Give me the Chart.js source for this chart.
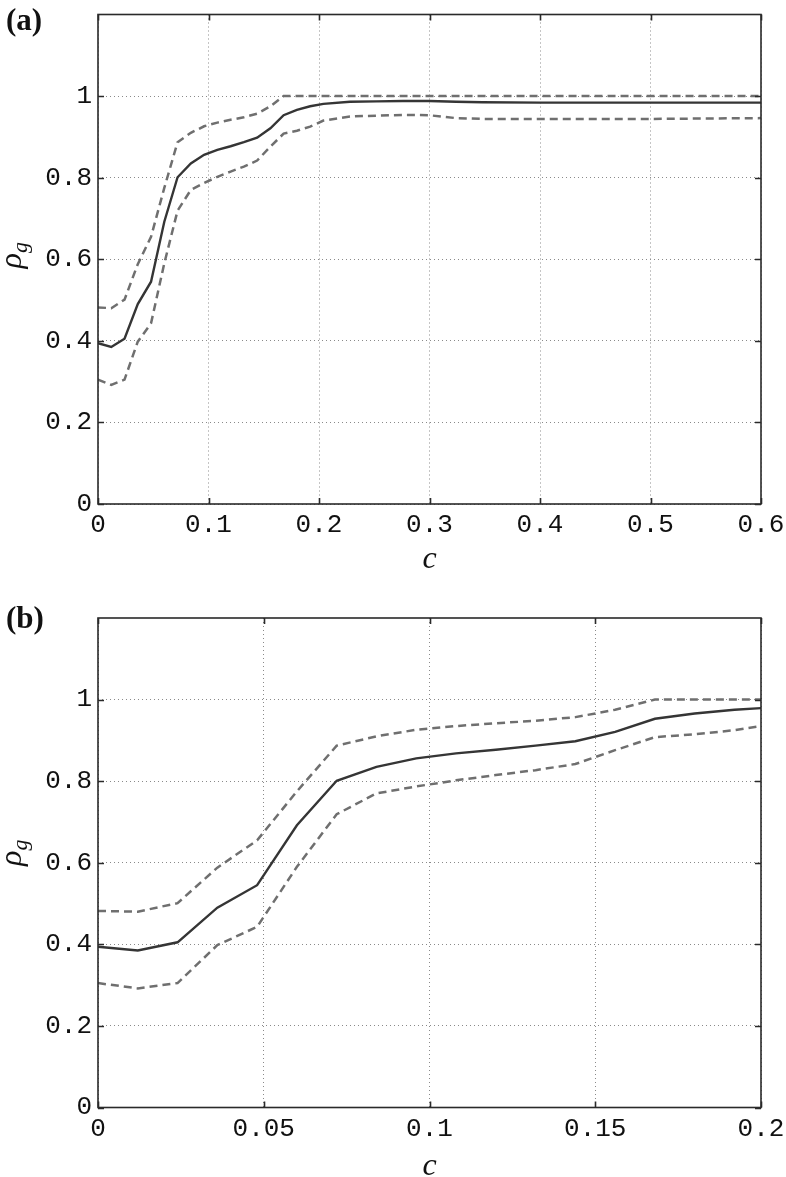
<!DOCTYPE html>
<html>
<head>
<meta charset="utf-8">
<script src="https://cdn.jsdelivr.net/npm/chart.js@4.4.0/dist/chart.umd.min.js"></script>
<style>
  html, body { margin: 0; padding: 0; background: #fff; }
  body { width: 786px; height: 1177px; position: relative; overflow: hidden; }
  .panel { position: absolute; left: 0; width: 786px; }
  #wrapA { top: 0; height: 588px; }
  #wrapB { top: 588px; height: 589px; }
</style>
</head>
<body>
<div class="panel" id="wrapA"><canvas id="chartA" width="786" height="588"></canvas></div>
<div class="panel" id="wrapB"><canvas id="chartB" width="786" height="589"></canvas></div>
<script>
// c values and rho_g readings (mean, upper and lower bound)
const cValues = [0, 0.012, 0.024, 0.036, 0.048, 0.06, 0.072, 0.084, 0.096, 0.108, 0.12, 0.132, 0.144, 0.156, 0.168, 0.18, 0.192, 0.204,
  0.228, 0.252, 0.276, 0.3, 0.324, 0.348, 0.4, 0.5, 0.6];
const rhoMean = [0.394, 0.385, 0.405, 0.490, 0.545, 0.692, 0.801, 0.835, 0.856, 0.868, 0.877, 0.887, 0.898, 0.921, 0.953, 0.966, 0.975, 0.981,
  0.986, 0.987, 0.988, 0.988, 0.986, 0.985, 0.984, 0.984, 0.984];
const rhoUpper = [0.482, 0.480, 0.501, 0.588, 0.655, 0.775, 0.887, 0.910, 0.926, 0.935, 0.942, 0.948, 0.957, 0.975, 1, 1, 1, 1,
  1, 1, 1, 1, 1, 1, 1, 1, 1];
const rhoLower = [0.305, 0.292, 0.305, 0.398, 0.443, 0.590, 0.719, 0.770, 0.787, 0.802, 0.815, 0.827, 0.842, 0.876, 0.908, 0.915, 0.925, 0.940,
  0.950, 0.952, 0.954, 0.953, 0.946, 0.944, 0.944, 0.944, 0.946];

const yTicks = [0, 0.2, 0.4, 0.6, 0.8, 1];
const xTicksA = [0, 0.1, 0.2, 0.3, 0.4, 0.5, 0.6];
const xTicksB = [0, 0.05, 0.1, 0.15, 0.2];

const tickFont = { family: '"Liberation Mono", "DejaVu Sans Mono", monospace', size: 26 };

function toPoints(ys) {
  return cValues.map((c, i) => ({ x: c, y: ys[i] }));
}

// matlab-like frame: box, inward ticks, axis titles, panel letter
const framePlugin = {
  id: 'frame',
  afterDraw(chart, args, opts) {
    const { ctx, chartArea: a } = chart;
    const x = chart.scales.x, y = chart.scales.y;
    ctx.save();
    ctx.strokeStyle = '#2a2a2a';
    ctx.lineWidth = 1.6;
    ctx.beginPath();
    x.ticks.forEach(t => {
      const px = Math.round(x.getPixelForValue(t.value)) + 0.5;
      ctx.moveTo(px, a.bottom); ctx.lineTo(px, a.bottom - 6);
      ctx.moveTo(px, a.top); ctx.lineTo(px, a.top + 6);
    });
    y.ticks.forEach(t => {
      const py = Math.round(y.getPixelForValue(t.value)) + 0.5;
      ctx.moveTo(a.left, py); ctx.lineTo(a.left + 6, py);
      ctx.moveTo(a.right, py); ctx.lineTo(a.right - 6, py);
    });
    ctx.stroke();
    ctx.strokeRect(a.left, a.top, a.right - a.left, a.bottom - a.top);

    ctx.fillStyle = '#111';
    ctx.font = 'bold 31px "Liberation Serif", serif';
    ctx.textAlign = 'left';
    ctx.textBaseline = 'alphabetic';
    ctx.fillText(opts.panel, 6, opts.panelY);

    ctx.font = 'italic 32px "Liberation Serif", serif';
    ctx.textAlign = 'center';
    ctx.fillText('c', (a.left + a.right) / 2, a.bottom + opts.xTitleDy);

    // rho_g, rotated
    const cy = (a.top + a.bottom) / 2 + opts.yTitleDy;
    ctx.translate(21, cy);
    ctx.rotate(-Math.PI / 2);
    ctx.textAlign = 'left';
    ctx.font = 'italic 32px "Liberation Serif", serif';
    const wr = ctx.measureText('ρ').width;
    ctx.font = 'italic 22px "Liberation Serif", serif';
    const wg = ctx.measureText('g').width;
    const x0 = -(wr + wg) / 2;
    ctx.font = 'italic 32px "Liberation Serif", serif';
    ctx.fillText('ρ', x0, 0);
    ctx.font = 'italic 22px "Liberation Serif", serif';
    ctx.fillText('g', x0 + wr, 6);
    ctx.restore();
  }
};

function makeChart(id, xMax, xTicks, padTop, xBoxHeight, frameOpts) {
  const ctx = document.getElementById(id).getContext('2d');
  return new Chart(ctx, {
    type: 'line',
    data: {
      datasets: [
        { data: toPoints(rhoUpper), borderColor: '#6f6f6f', borderWidth: 2.5, borderDash: [8, 5], pointRadius: 0, tension: 0 },
        { data: toPoints(rhoLower), borderColor: '#6f6f6f', borderWidth: 2.5, borderDash: [8, 5], pointRadius: 0, tension: 0 },
        { data: toPoints(rhoMean), borderColor: '#353535', borderWidth: 2.4, pointRadius: 0, tension: 0 }
      ]
    },
    options: {
      responsive: false,
      animation: false,
      events: [],
      layout: { padding: { top: padTop, right: 25, left: 0, bottom: 0 } },
      plugins: { legend: { display: false }, tooltip: { enabled: false }, frame: frameOpts },
      scales: {
        x: {
          type: 'linear', min: 0, max: xMax,
          afterBuildTicks: s => { s.ticks = xTicks.map(v => ({ value: v })); },
          afterFit: s => { s.height = xBoxHeight; s.paddingLeft = 0; s.paddingRight = 0; },
          ticks: { font: tickFont, color: '#111', padding: 6, autoSkip: false, maxRotation: 0,
                   callback: v => String(v) },
          grid: { color: '#8a8a8a', lineWidth: 1, drawTicks: false },
          border: { display: false, dash: [1, 3] }
        },
        y: {
          type: 'linear', min: 0, max: 1.2,
          afterBuildTicks: s => { s.ticks = yTicks.map(v => ({ value: v })); },
          afterFit: s => { s.width = 98; s.paddingTop = 0; s.paddingBottom = 0; },
          ticks: { font: tickFont, color: '#111', padding: 6, callback: v => String(v) },
          grid: { color: '#8a8a8a', lineWidth: 1, drawTicks: false },
          border: { display: false, dash: [1, 3] }
        }
      }
    },
    plugins: [framePlugin]
  });
}

makeChart('chartA', 0.6, xTicksA, 14.5, 84, { panel: '(a)', panelY: 30, xTitleDy: 64, yTitleDy: -4 });
makeChart('chartB', 0.2, xTicksB, 30, 69.5, { panel: '(b)', panelY: 40, xTitleDy: 67, yTitleDy: -10 });
</script>
</body>
</html>
